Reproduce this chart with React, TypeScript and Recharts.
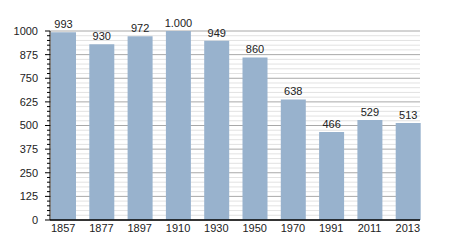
import React from 'react';
import {
  BarChart,
  Bar,
  XAxis,
  YAxis,
  CartesianGrid,
  LabelList,
} from 'recharts';

const years = ['1857', '1877', '1897', '1910', '1930', '1950', '1970', '1991', '2011', '2013'];
const population = [993, 930, 972, 1000, 949, 860, 638, 466, 529, 513];
const majorStep = 125;
const minorTicks = Array.from({ length: 41 }, (_, i) => i * 25);

const chartData = years.map((year, i) => ({ year, value: population[i] }));

const FONT = '"Liberation Sans", Arial, sans-serif';

// German style thousands separator, e.g. 1.000
const formatValue = (v: number) => String(v).replace(/\B(?=(\d{3})+(?!\d))/g, '.');

const YTick = (props: any) => {
  const { x, y, payload } = props;
  const isMajor = payload.value % majorStep === 0;
  return (
    <g>
      <line
        x1={isMajor ? x - 5 : x - 3}
        x2={x}
        y1={y}
        y2={y}
        stroke="#000"
        strokeWidth={1}
      />
      {isMajor && (
        <text
          x={x - 12}
          y={y}
          dy="0.355em"
          textAnchor="end"
          fontSize={11}
          fontFamily={FONT}
          fill="#222"
        >
          {payload.value}
        </text>
      )}
    </g>
  );
};

// every 5th grid line (multiples of 125) is darker
const GridLine = (props: any) => {
  const { x1, x2, y1, y2, index } = props;
  const isMajor = index % 5 === 0;
  return (
    <line
      x1={x1}
      x2={x2}
      y1={y1}
      y2={y2}
      stroke={isMajor ? '#a8a8a8' : '#e2e2e2'}
      strokeWidth={1}
    />
  );
};

export default function App() {
  return (
    <div style={{ position: 'absolute', left: 0, top: 0, width: 450, height: 250, background: '#fff' }}>
      <BarChart
        width={450}
        height={250}
        data={chartData}
        margin={{ top: 31, right: 30, left: 0, bottom: 0 }}
      >
        <CartesianGrid horizontal={(p: any) => <GridLine key={p.key ?? p.index} {...p} />} vertical={false} />
        <XAxis
          dataKey="year"
          height={30}
          padding={{ left: -6, right: -7 }}
          tickLine={false}
          tickSize={0}
          tickMargin={4}
          axisLine={{ stroke: '#000', strokeWidth: 1.5 }}
          tick={{ fontSize: 11, fontFamily: FONT, fill: '#222' }}
          interval={0}
        />
        <YAxis
          width={50}
          domain={[0, 1000]}
          ticks={minorTicks}
          interval={0}
          tickLine={false}
          tickSize={0}
          tickMargin={0}
          axisLine={{ stroke: '#000', strokeWidth: 1 }}
          tick={<YTick />}
        />
        <Bar dataKey="value" fill="#98b2cd" barSize={25} isAnimationActive={false}>
          <LabelList
            dataKey="value"
            position="top"
            offset={4}
            formatter={(v: any) => formatValue(Number(v))}
            style={{ fontSize: 11, fontFamily: FONT, fill: '#222' }}
          />
        </Bar>
      </BarChart>
    </div>
  );
}
